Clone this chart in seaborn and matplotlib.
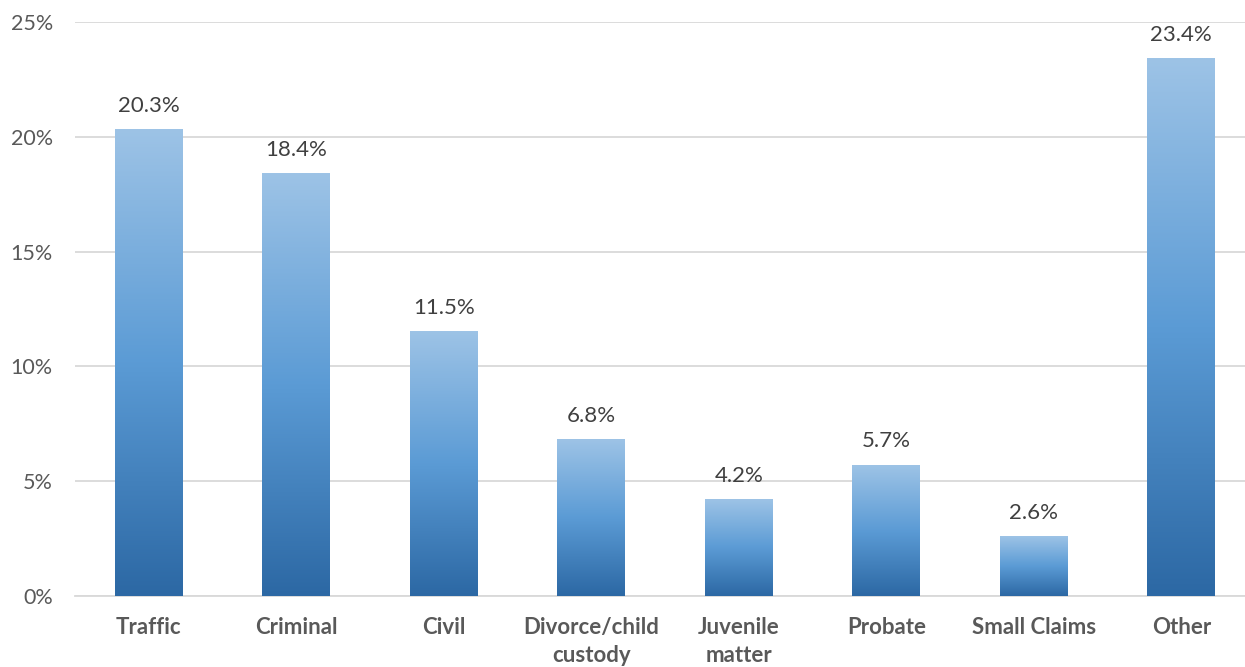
import numpy as np
import pandas as pd
import matplotlib
matplotlib.use("Agg")
import matplotlib.pyplot as plt
import seaborn as sns
from matplotlib.colors import LinearSegmentedColormap
from matplotlib.ticker import FuncFormatter

categories = ["Traffic", "Criminal", "Civil", "Divorce/child\ncustody", "Juvenile\nmatter",
              "Probate", "Small Claims", "Other"]
values = [20.3, 18.4, 11.5, 6.8, 4.2, 5.7, 2.6, 23.4]
yticks = [0, 5, 10, 15, 20, 25]

sns.set_theme(style="white")
plt.rcParams['font.family'] = ['Lato', 'DejaVu Sans']

fig = plt.figure(figsize=(12.45, 6.67), dpi=100)
ax = fig.add_axes([75/1245, 71/667, 1180/1245, 574/667])

df = pd.DataFrame({"cat": categories, "val": values})
sns.barplot(data=df, x="cat", y="val", ax=ax, width=0.46, color="#5B9BD5", saturation=1)

cmap = LinearSegmentedColormap.from_list("g", ["#2C68A4", "#5B9BD5", "#9DC3E6"])
grad = np.linspace(0, 1, 256).reshape(-1, 1)
for p in ax.patches:
    x0, y0 = p.get_x(), p.get_y()
    w, h = p.get_width(), p.get_height()
    ax.imshow(grad, extent=[x0, x0 + w, y0, y0 + h], origin="lower", cmap=cmap,
              aspect="auto", zorder=3)
    p.set_alpha(0)

for i, v in enumerate(values):
    ax.text(i, v + 0.6, f"{v:.1f}%", ha="center", va="bottom", fontsize=16, color="#404040")

ax.set_xlim(-0.5, len(categories) - 0.5)
ax.set_ylim(0, 25)
ax.set_yticks(yticks)
ax.yaxis.set_major_formatter(FuncFormatter(lambda v, _: f"{v:.0f}%"))
ax.grid(axis="y", color="#D9D9D9", linewidth=1.3, zorder=0)
ax.set_axisbelow(True)
for s in ["top", "right", "left"]:
    ax.spines[s].set_visible(False)
ax.spines["bottom"].set_color("#D9D9D9")
ax.spines["bottom"].set_linewidth(1.3)
ax.set_xlabel("")
ax.set_ylabel("")
ax.tick_params(axis="y", length=0, pad=16, labelsize=15.5, labelcolor="#595959")
ax.tick_params(axis="x", length=0, pad=15, labelsize=16, labelcolor="#595959")
for t in ax.get_xticklabels():
    t.set_fontweight("bold")
    t.set_linespacing(1.45)
    t.set_verticalalignment("top")

fig.savefig("out.png", dpi=100)
